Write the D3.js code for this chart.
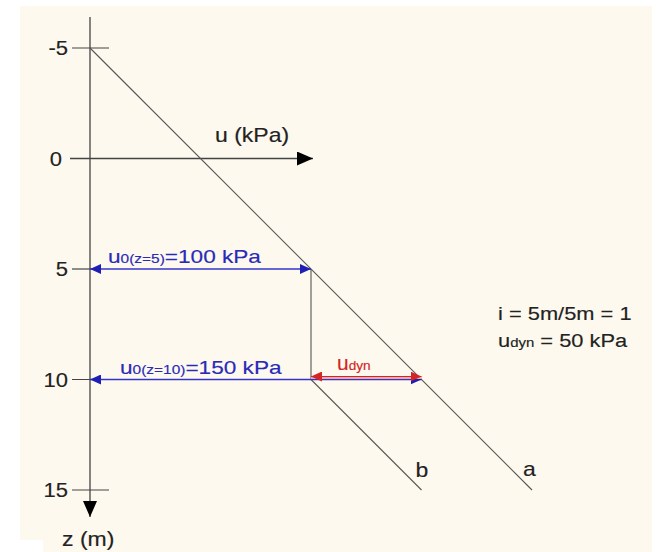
<!DOCTYPE html>
<html>
<head>
<meta charset="utf-8">
<script src="https://cdn.jsdelivr.net/npm/d3@7"></script>
<style>
  body { margin: 0; background: #ffffff; }
  text { font-family: "Liberation Sans", Arial, sans-serif; }
</style>
</head>
<body>
<div id="chart"></div>
<script>
// depth ticks on the z axis (m)
const zTicks = [-5, 0, 5, 10, 15];

// pore pressure lines, points as [u (kPa), z (m)]
const lineA = [[0, -5], [200, 15]];
const lineB = [[100, 10], [150, 15]];
const dropLine = [[100, 5], [100, 10]];

// blue arrows: static pore pressure at z = 5 and z = 10
const uDepths = [5, 10];
const uValues = [100, 150];
const uSubs = ["0(z=5)", "0(z=10)"];

// red arrow: dynamic part at z = 10
const dynDepth = 10;
const dynFrom = 150;
const dynTo = 100;

// side notes
const notes = [
  [{t: "i = 5m/5m = 1"}],
  [{t: "u"}, {t: "dyn", small: true}, {t: " = 50 kPa"}]
];

const W = 659, H = 552;
const sx = 1.15; // the picture is a bit stretched sideways

const svg = d3.select("#chart")
  .append("svg")
  .attr("width", W)
  .attr("height", H);

// cream paper
svg.append("rect")
  .attr("x", 20).attr("y", 6)
  .attr("width", 632).attr("height", H - 6)
  .attr("fill", "#fdf9ee");
svg.append("rect")
  .attr("x", 20).attr("y", 540)
  .attr("width", 23).attr("height", 12)
  .attr("fill", "#ffffff");

const x = d3.scaleLinear().domain([0, 200]).range([90, 532]);
const y = d3.scaleLinear().domain([-5, 15]).range([48, 490]);

// markers
const defs = svg.append("defs");
function marker(id, color, len, half) {
  defs.append("marker")
    .attr("id", id)
    .attr("markerUnits", "userSpaceOnUse")
    .attr("viewBox", `0 ${-half} ${len} ${half * 2}`)
    .attr("refX", len).attr("refY", 0)
    .attr("markerWidth", len).attr("markerHeight", half * 2)
    .attr("orient", "auto-start-reverse")
    .append("path")
    .attr("d", `M0,${-half}L${len},0L0,${half}Z`)
    .attr("fill", color);
}
marker("axisHead", "#000", 16, 7);
marker("blueHead", "#1e1eb4", 11, 5);
marker("redHead", "#d42424", 11, 5);

function label(parent, px, py, parts, size, color, anchor, stretch) {
  const t = parent.append("text")
    .attr("transform", `translate(${px},${py}) scale(${stretch || sx},1)`)
    .attr("fill", color)
    .attr("stroke", color)
    .attr("stroke-width", 0.15)
    .attr("text-anchor", anchor || "start")
    .style("font-size", size + "px");
  parts.forEach(p => {
    t.append("tspan")
      .style("font-size", (p.small ? 13 : size) + "px")
      .text(p.t);
  });
  return t;
}

const g = svg.append("g");

// z axis
g.append("line")
  .attr("x1", x(0)).attr("x2", x(0))
  .attr("y1", 17).attr("y2", 517)
  .attr("stroke", "#444").attr("stroke-width", 1.3)
  .attr("marker-end", "url(#axisHead)");

// u axis at z = 0
g.append("line")
  .attr("x1", 70).attr("x2", 313)
  .attr("y1", y(0)).attr("y2", y(0))
  .attr("stroke", "#444").attr("stroke-width", 1.3)
  .attr("marker-end", "url(#axisHead)");

// tick marks
g.selectAll(".tick")
  .data(zTicks.filter(d => d !== 0))
  .enter()
  .append("line")
  .attr("x1", 72).attr("x2", d => d === 5 ? x(0) : 109)
  .attr("y1", d => y(d)).attr("y2", d => y(d))
  .attr("stroke", "#444").attr("stroke-width", 1.2);

zTicks.forEach(d => {
  label(g, d === 0 ? 62 : 68, y(d) + 7, [{t: String(d)}], 20, "#222", "end", 1.1);
});

label(g, 215, 142, [{t: "u (kPa)"}], 20, "#222");
label(g, 62, 546, [{t: "z (m)"}], 20, "#222");

// straight lines
const line = d3.line().x(d => x(d[0])).y(d => y(d[1]));
[lineA, lineB, dropLine].forEach(pts => {
  g.append("path")
    .attr("d", line(pts))
    .attr("fill", "none")
    .attr("stroke", "#555")
    .attr("stroke-width", 1.1);
});

label(g, x(lineA[1][0]) - 9, y(lineA[1][1]) - 14, [{t: "a"}], 20, "#222");
label(g, x(lineB[1][0]) - 6, y(lineB[1][1]) - 13, [{t: "b"}], 20, "#222");

// blue arrows
uDepths.forEach((z, i) => {
  g.append("line")
    .attr("x1", x(0)).attr("x2", x(uValues[i]))
    .attr("y1", y(z)).attr("y2", y(z))
    .attr("stroke", "#3434cc").attr("stroke-width", 1.3)
    .attr("marker-start", "url(#blueHead)")
    .attr("marker-end", "url(#blueHead)");
  label(g, x(0) + (i === 0 ? 18 : 30), y(z) - 6,
    [{t: "u"}, {t: uSubs[i], small: true}, {t: "=" + uValues[i] + " kPa"}],
    19, "#2a2ab8", "start", 1.19);
});

// red arrow (u_dyn)
g.append("line")
  .attr("x1", x(dynFrom)).attr("x2", x(dynTo))
  .attr("y1", y(dynDepth) - 2).attr("y2", y(dynDepth) - 2)
  .attr("stroke", "#eba8a8").attr("stroke-width", 3);
g.append("line")
  .attr("x1", x(dynFrom)).attr("x2", x(dynTo))
  .attr("y1", y(dynDepth) - 3).attr("y2", y(dynDepth) - 3)
  .attr("stroke", "#d42424").attr("stroke-width", 1.1)
  .attr("marker-start", "url(#redHead)")
  .attr("marker-end", "url(#redHead)");
label(g, x(dynTo) + 26, y(dynDepth) - 10, [{t: "u"}, {t: "dyn", small: true}], 20, "#d42424", "start", 1.05);

// notes on the right
notes.forEach((parts, i) => {
  label(g, 498, 320 + i * 27, parts, 19, "#222");
});
</script>
</body>
</html>
